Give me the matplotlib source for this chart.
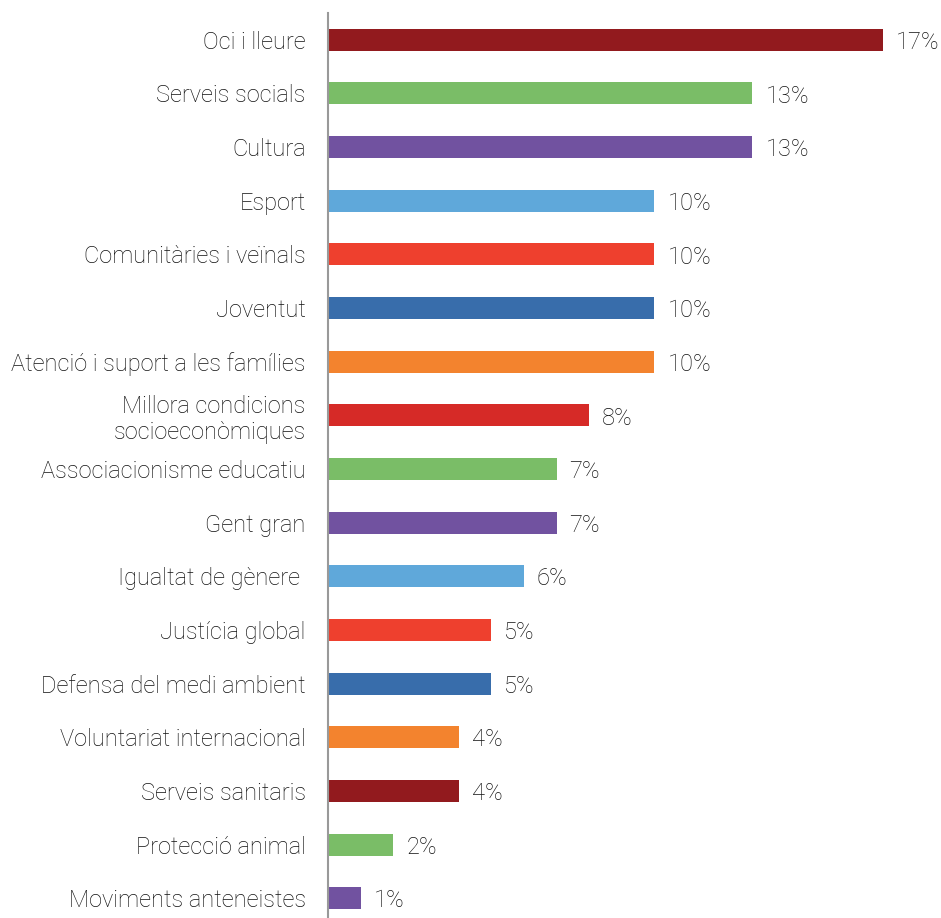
import matplotlib
matplotlib.use("Agg")
import matplotlib.pyplot as plt

categories = ["Oci i lleure", "Serveis socials", "Cultura", "Esport",
              "Comunitàries i veïnals", "Joventut", "Atenció i suport a les famílies",
              "Millora condicions\nsocioeconòmiques", "Associacionisme educatiu",
              "Gent gran", "Igualtat de gènere ", "Justícia global",
              "Defensa del medi ambient", "Voluntariat internacional",
              "Serveis sanitaris", "Protecció animal", "Moviments anteneistes"]
values = [17, 13, 13, 10, 10, 10, 10, 8, 7, 7, 6, 5, 5, 4, 4, 2, 1]
colors = ["#921a1e", "#7abd67", "#7152a0", "#5fa8da", "#ee402e", "#386dab",
          "#f3832e", "#d62a27", "#7abd67", "#7152a0", "#5fa8da", "#ee402e",
          "#386dab", "#f3832e", "#921a1e", "#7abd67", "#7152a0"]

plt.rcParams['font.family'] = ['Roboto', 'DejaVu Sans']
plt.rcParams['font.weight'] = 'light'

fig = plt.figure(figsize=(9.41, 9.18), dpi=100)
ax = fig.add_axes([328 / 941, 0.0, 604 / 941, 1 - 13 / 918])

ypos = list(range(len(categories)))
ax.barh(ypos, values, height=0.41, color=colors)
for y, v in zip(ypos, values):
    ax.text(v + 0.4, y + 0.05, f"{v}%", va="center", ha="left", fontsize=17,
            color="#111111", fontweight="light")

ax.set_xlim(0, 18.5)
ax.set_ylim(16.37, -0.50)
ax.set_yticks(ypos)
ax.set_yticklabels(categories, fontsize=17, color="#111111", fontweight="light")
ax.tick_params(axis="y", length=0, pad=16)
ax.set_xticks([])
for s in ["top", "right", "bottom"]:
    ax.spines[s].set_visible(False)
ax.spines["left"].set_color("#999999")
ax.spines["left"].set_linewidth(1.5)

fig.savefig("out.png", dpi=100)
